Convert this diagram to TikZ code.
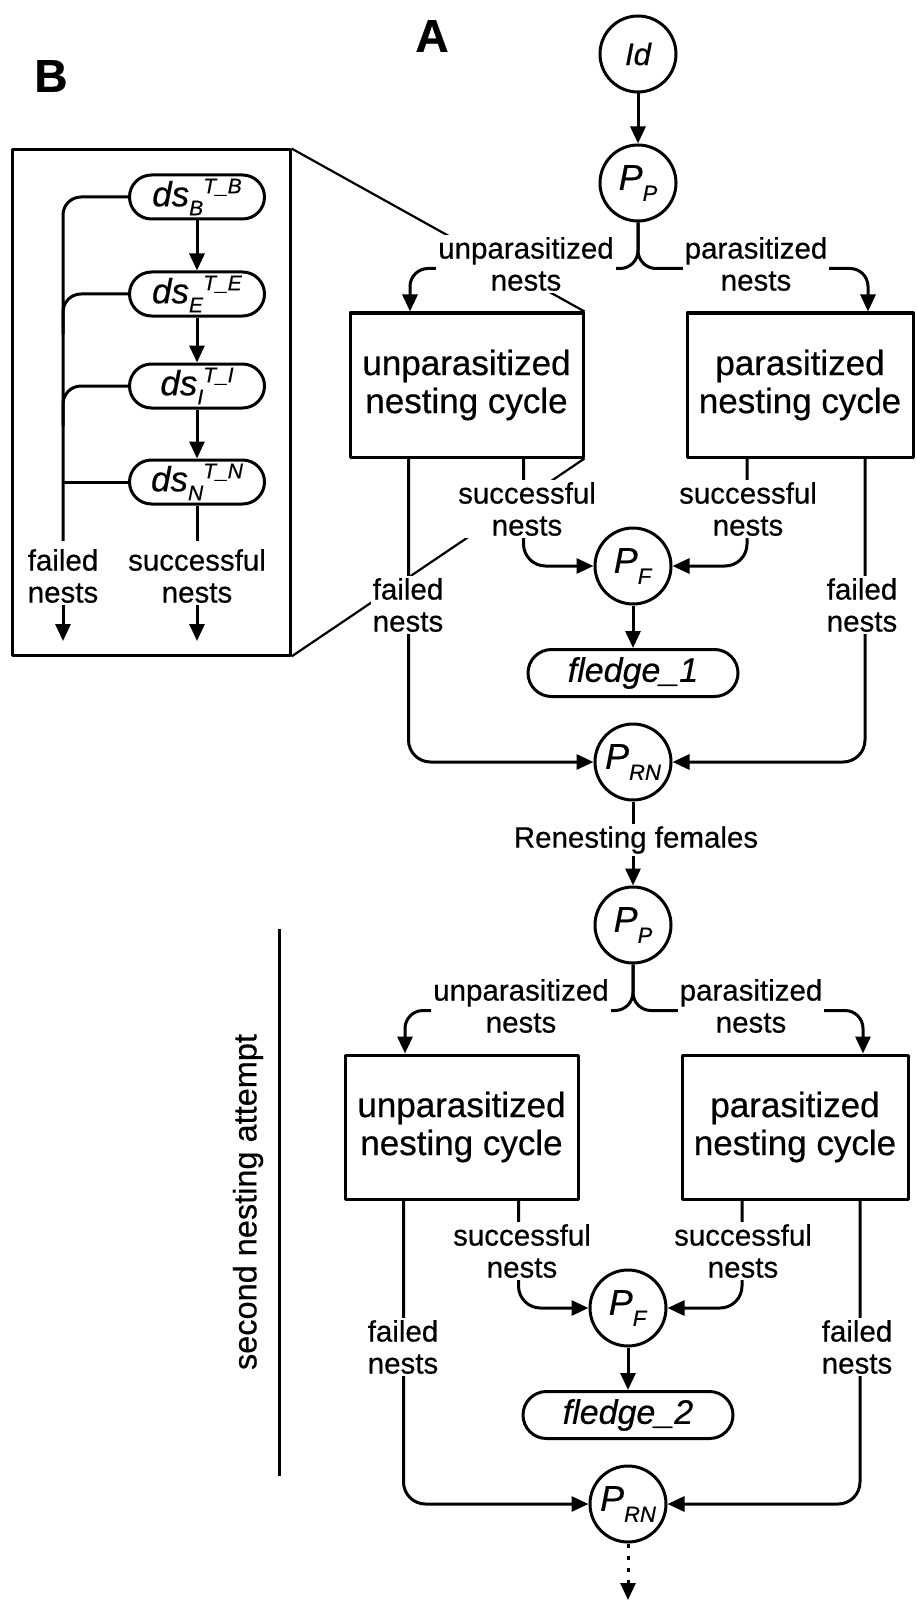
\documentclass[tikz,border=0pt]{standalone}
\usepackage{fontspec}
\setmainfont{Liberation Sans}[FakeBold=0.5]
\usetikzlibrary{arrows.meta,backgrounds}
\newcommand{\Pidx}[1]{\textit{P}\raisebox{-11pt}{\fontsize{22}{22}\selectfont\textit{#1}}}
\newcommand{\dsidx}[1]{\textit{ds}\raisebox{-9pt}{\fontsize{21}{21}\selectfont\textit{#1}}\raisebox{13pt}{\fontsize{21}{21}\selectfont\textit{T\_#1}}}
\tikzset{
  wire/.style={line width=3pt},
  flow/.style={wire,->},
  pnode/.style={circle,draw,wire,minimum size=76pt,inner sep=0pt,font=\fontsize{36}{36}\selectfont},
  cyclebox/.style={rectangle,draw,wire,minimum height=144pt,align=center,font=\fontsize{35}{38}\selectfont},
  pill/.style={rectangle,draw,wire,inner sep=0pt},
  lbl/.style={fill=white,align=center,inner sep=2pt,font=\fontsize{29.5}{32}\selectfont},
  panel/.style={font=\fontsize{46}{46}\selectfont\bfseries}
}

\begin{document}
\begin{tikzpicture}[x=1pt,y=-1pt,>={Triangle[length=17pt,width=15pt]},line join=round]
  \useasboundingbox (0,0) rectangle (916,1602);
  \node[panel] (labA) at (432,36) {A};
  \node[panel] (labB) at (51,76) {B};

  % inset B
  \node[draw,wire,minimum width=278pt,minimum height=505pt,inner sep=0pt] (inset) at (151,402.5) {};
  \foreach \k/\y in {B/197,E/294,I/386,N/482}
    \node[pill,minimum width=135pt,minimum height=44pt,rounded corners=22pt,font=\fontsize{35}{35}\selectfont] (ds\k) at (197,\y) {\dsidx{\k}};
  \draw[flow] (dsB) -- (dsE);
  \draw[flow] (dsE) -- (dsI);
  \draw[flow] (dsI) -- (dsN);
  \coordinate (failend) at (63,541);
  \coordinate (succend) at (197,541);
  \draw[wire,rounded corners=18pt] (dsB.west) -| (failend);
  \draw[wire,rounded corners=18pt] (dsE.west) -| ([yshift=-40pt]failend |- dsE.west);
  \draw[wire,rounded corners=18pt] (dsI.west) -| ([yshift=-40pt]failend |- dsI.west);
  \draw[wire] (dsN.west) -- (failend |- dsN.west);
  \draw[wire] (dsN) -- (succend);
  \node[lbl] (failB) at (63,576) {failed\\nests};
  \node[lbl] (succB) at (197,576) {successful\\nests};
  \coordinate (failout) at (63,641);
  \coordinate (succout) at (197,641);
  \draw[flow] (failB) -- (failout);
  \draw[flow] (succB) -- (succout);

  % panel A
  \node[pnode,font=\fontsize{31}{31}\selectfont\itshape] (Id) at (638,54) {Id};
  \foreach \s/\cx/\cy in {1/638/183,2/633/925}{
    \node[pnode] (PP\s) at (\cx,\cy) {\Pidx{P}};
    \node[cyclebox,minimum width=233pt] (UB\s) at (\cx-171.5,\cy+202) {unparasitized\\nesting cycle};
    \node[cyclebox,minimum width=226pt] (PB\s) at (\cx+162,\cy+202) {parasitized\\nesting cycle};
    \node[pnode] (PF\s) at (\cx-5,\cy+383) {\Pidx{F}};
    \node[pill,minimum width=210pt,minimum height=47pt,rounded corners=23.5pt,font=\fontsize{34}{34}\selectfont\itshape] (fl\s) at (\cx-5,\cy+490) {fledge\_\s};
    \node[pnode] (PRN\s) at (\cx-5,\cy+579) {\Pidx{RN}};
    \draw[flow,rounded corners=18pt] (PP\s.south) -- ++(0,46) -| ([xshift=-56.5pt]UB\s.north);
    \draw[flow,rounded corners=18pt] (PP\s.south) -- ++(0,46) -| ([xshift=68pt]PB\s.north);
    \draw[flow,rounded corners=22pt] ([xshift=57pt]UB\s.south) |- (PF\s.west);
    \draw[flow,rounded corners=22pt] ([xshift=-53pt]PB\s.south) |- (PF\s.east);
    \draw[flow,rounded corners=22pt] ([xshift=-58pt]UB\s.south) |- (PRN\s.west);
    \draw[flow,rounded corners=22pt] ([xshift=65pt]PB\s.south) |- (PRN\s.east);
    \draw[flow] (PF\s) -- (fl\s);
    \node[lbl] (up\s) at (\cx-112,\cy+81) {unparasitized\\nests};
    \node[lbl] (pa\s) at (\cx+118,\cy+81) {parasitized\\nests};
    \node[lbl] (su\s) at (\cx-111,\cy+326) {successful\\nests};
    \node[lbl] (sp\s) at (\cx+110,\cy+326) {successful\\nests};
    \node[lbl] (fu\s) at (\cx-230,\cy+422) {failed\\nests};
    \node[lbl] (fp\s) at (\cx+224,\cy+422) {failed\\nests};
  }
  \draw[flow] (Id) -- (PP1);
  \draw[flow] (PRN1) -- (PP2);
  \node[lbl] (renest) at (636,840) {Renesting females};
  \coordinate (more) at (628,1600);
  \draw[flow,dash pattern=on 4pt off 8pt] (PRN2) -- (more);

  % zoom lines from B into A
  \begin{scope}[on background layer]
    \draw[wire,line width=2.2pt] (inset.north east) -- (UB1.north east);
    \draw[wire,line width=2.2pt] (inset.south east) -- (UB1.south east);
  \end{scope}

  % second attempt
  \coordinate (sepTop) at (279,929);
  \coordinate (sepBot) at (279,1476);
  \draw[wire] (sepTop) -- (sepBot);
  \node[rotate=90,font=\fontsize{32.5}{33}\selectfont] (attempt) at (248,1202) {second nesting attempt};
\end{tikzpicture}
\end{document}
